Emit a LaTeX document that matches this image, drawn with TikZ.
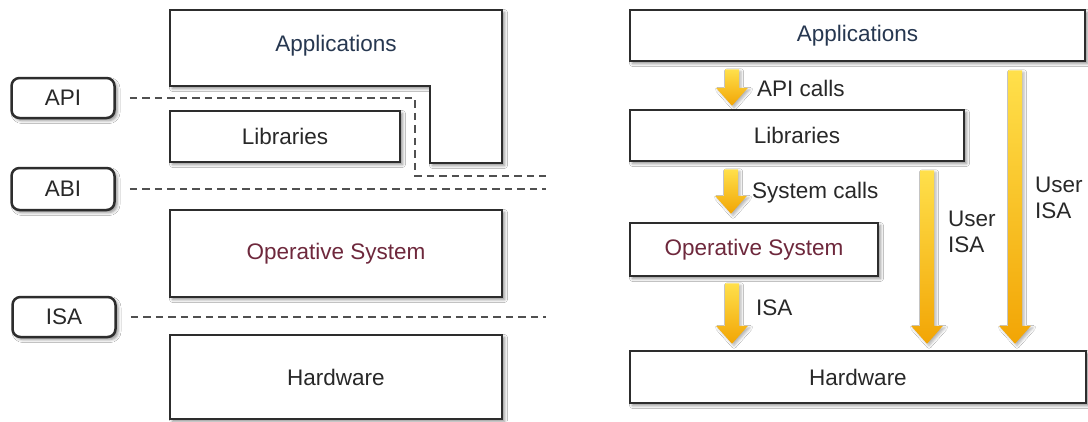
\documentclass[tikz,border=0pt]{standalone}
\usepackage{fontspec}
\setmainfont{Liberation Sans}
\usetikzlibrary{shadows.blur,calc}
\definecolor{boxline}{RGB}{45,45,45}
\definecolor{dashcol}{RGB}{80,80,80}
\definecolor{appcol}{RGB}{38,55,80}
\definecolor{oscol}{RGB}{110,40,60}
\definecolor{txtcol}{RGB}{40,40,40}
\definecolor{arrtop}{RGB}{255,224,75}
\definecolor{arrbot}{RGB}{242,165,5}
\tikzset{
  layerbox/.style={draw=boxline, line width=2.5pt, fill=white, inner sep=0pt,
    blur shadow={shadow xshift=2.5pt, shadow yshift=-2.5pt, shadow opacity=45, shadow blur radius=3pt}},
  ifacebox/.style={layerbox, rounded corners=8pt, minimum width=103pt, minimum height=40pt},
  dashline/.style={draw=dashcol, line width=2pt, dash pattern=on 7.5pt off 5pt},
  lbl/.style={inner sep=0pt, text=txtcol, font=\fontsize{22.5}{26}\selectfont},
  sidelbl/.style={lbl, anchor=west, align=left},
  arrowshade/.style={top color=arrtop, bottom color=arrbot,
    blur shadow={shadow xshift=2pt, shadow yshift=-2pt, shadow opacity=30, shadow blur radius=2.5pt}}
}
\newcommand\yarrow[2]{%
  \shade[arrowshade] let \p1=(#1), \p2=(#2) in
    (\x1-7pt,\y1) -- (\x1+7pt,\y1) -- (\x1+7pt,\y2+18pt) -- (\x1+16pt,\y2+18pt)
    -- (\x1,\y2) -- (\x1-16pt,\y2+18pt) -- (\x1-7pt,\y2+18pt) -- cycle;}
\begin{document}
\begin{tikzpicture}[x=1pt,y=-1pt]
\useasboundingbox[fill=white] (0,0) rectangle (1088,421);
%% ---------- left ----------
\draw[layerbox] (170,10) -- (502,10) -- (502,163) -- (430,163) -- (430,86) -- (170,86) -- cycle;
\node[lbl, text=appcol] (appsL) at (336,46) {Applications};
\node[layerbox, minimum width=230pt, minimum height=51pt, lbl] (libsL) at (285,136.5) {Libraries};
\node[layerbox, minimum width=332pt, minimum height=87pt, lbl, text=oscol] (osL) at (336,253.5) {Operative System};
\node[layerbox, minimum width=332pt, minimum height=84pt, lbl] (hwL) at (336,377) {Hardware};
\node[ifacebox, lbl] (api) at (63,98) {API};
\node[ifacebox, lbl, minimum height=42pt] (abi) at (63,189) {ABI};
\node[ifacebox, lbl] (isa) at (64,317) {ISA};
\coordinate (apiend) at (546,176);
\coordinate (abiend) at (546,189);
\coordinate (isaend) at (546,317);
\draw[dashline] ([xshift=14pt]api.east) -| (415,176) -- (apiend);
\draw[dashline] ([xshift=14pt]abi.east) -- (abiend);
\draw[dashline] ([xshift=14pt]isa.east) -- (isaend);
%% ---------- right ----------
\node[layerbox, minimum width=455pt, minimum height=51pt, lbl, text=appcol] (appsR) at (857.5,35.5) {Applications};
\node[layerbox, minimum width=334pt, minimum height=51pt, lbl] (libsR) at (797,135.5) {Libraries};
\node[layerbox, minimum width=248pt, minimum height=53pt, lbl, text=oscol] (osR) at (754,249.5) {Operative System};
\node[layerbox, minimum width=456pt, minimum height=52pt, lbl] (hwR) at (858,377) {Hardware};
% arrow end points
\path (appsR.south -| 732,0) ++(0,7) coordinate (a1s);
\path (libsR.north -| 732,0) ++(0,-3) coordinate (a1e);
\path (libsR.south -| 731,0) ++(0,7) coordinate (a2s);
\path (osR.north -| 731,0) ++(0,-8) coordinate (a2e);
\path (osR.south -| 732,0) ++(0,6) coordinate (a3s);
\path (hwR.north -| 732,0) ++(0,-6) coordinate (a3e);
\path (libsR.south -| 927,0) ++(0,8) coordinate (a4s);
\path (hwR.north -| 927,0) ++(0,-6) coordinate (a4e);
\path (appsR.south -| 1015,0) ++(0,8) coordinate (a5s);
\path (hwR.north -| 1015,0) ++(0,-6) coordinate (a5e);
\yarrow{a1s}{a1e}
\yarrow{a2s}{a2e}
\yarrow{a3s}{a3e}
\yarrow{a4s}{a4e}
\yarrow{a5s}{a5e}
\node[sidelbl] (lapi) at (757,88) {API calls};
\node[sidelbl] (lsys) at (752,193) {System calls};
\node[sidelbl] (lisa) at (756,308) {ISA};
\node[sidelbl] (luser1) at (948,231.5) {User\\ISA};
\node[sidelbl] (luser2) at (1035,197.5) {User\\ISA};
\end{tikzpicture}
\end{document}
